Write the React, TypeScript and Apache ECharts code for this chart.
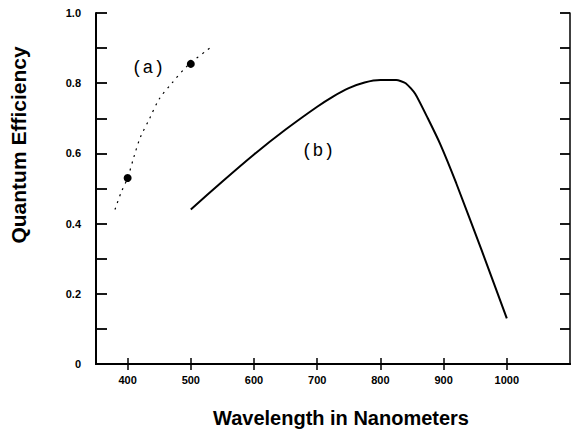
import React, { useEffect, useRef } from "react";
import * as echarts from "echarts";

// Curve (a): dotted theoretical curve [wavelength nm, QE]
const curveA: [number, number][] = [
  [380, 0.44], [390, 0.49], [400, 0.53], [410, 0.59], [420, 0.645],
  [435, 0.70], [450, 0.755], [470, 0.80], [495, 0.85], [530, 0.90],
];
// Measured points on curve (a)
const pointsA: [number, number][] = [
  [400, 0.53], [500, 0.855],
];
// Curve (b): solid
const curveB: [number, number][] = [
  [500, 0.44], [550, 0.52], [600, 0.597], [650, 0.668], [700, 0.733],
  [725, 0.762], [750, 0.786], [775, 0.802], [800, 0.809], [825, 0.809],
  [840, 0.8], [855, 0.77], [875, 0.7], [895, 0.625], [920, 0.515],
  [960, 0.325], [1000, 0.13],
];
const xTickValues = [400, 500, 600, 700, 800, 900, 1000];
const yLabelValues = [0, 0.2, 0.4, 0.6, 0.8, 1.0];
const xTitle = "Wavelength in Nanometers";
const yTitle = "Quantum Efficiency";
const labelA = "(a)";
const labelB = "(b)";

export default function App() {
  const ref = useRef<HTMLDivElement>(null);
  useEffect(() => {
    if (!ref.current) return;
    const chart = echarts.init(ref.current, null, { renderer: "svg" });
    const labelFont = {
      fontFamily: "Liberation Sans, Arial, sans-serif",
      fontWeight: "bold" as const,
      fontSize: 11,
      color: "#000",
    };
    chart.setOption({
      animation: false,
      backgroundColor: "#fff",
      grid: { left: 96, top: 13, right: 2, bottom: 73, outerBoundsMode: "none" },
      xAxis: [
        {
          type: "value", min: 350, max: 1100, position: "bottom",
          axisLine: { lineStyle: { color: "#000", width: 2 } },
          axisTick: { inside: true, length: 6, customValues: xTickValues, lineStyle: { color: "#000", width: 1.5 } },
          axisLabel: { ...labelFont, margin: 10, customValues: xTickValues, formatter: (v: number) => String(v) },
          splitLine: { show: false },
        },
        {
          type: "value", min: 350, max: 1100, position: "top",
          axisLine: { lineStyle: { color: "#000", width: 2 } },
          axisTick: { inside: true, length: 6, customValues: xTickValues, lineStyle: { color: "#000", width: 1.5 } },
          axisLabel: { show: false },
          splitLine: { show: false },
        },
      ],
      yAxis: [
        {
          type: "value", min: 0, max: 1, interval: 0.1, position: "left",
          axisLine: { lineStyle: { color: "#000", width: 2 } },
          axisTick: { inside: true, length: 11, lineStyle: { color: "#000", width: 1.8 } },
          axisLabel: {
            ...labelFont, margin: 15, customValues: yLabelValues,
            formatter: (v: number) => (v === 0 ? "0" : v.toFixed(1)),
          },
          splitLine: { show: false },
        },
        {
          type: "value", min: 0, max: 1, interval: 0.1, position: "right",
          axisLine: { lineStyle: { color: "#000", width: 1.5 } },
          axisTick: { inside: true, length: 10, lineStyle: { color: "#000", width: 1.8 } },
          axisLabel: { show: false },
          splitLine: { show: false },
        },
      ],
      series: [
        {
          type: "line", data: curveA, showSymbol: false, smooth: 0.3,
          lineStyle: { color: "#000", width: 1.2, type: [2, 5] },
        },
        {
          type: "scatter", data: pointsA, symbolSize: 8,
          itemStyle: { color: "#000", opacity: 1 },
        },
        {
          type: "line", data: curveB, showSymbol: false, smooth: 0.2,
          lineStyle: { color: "#000", width: 2 },
        },
      ],
      graphic: [
        {
          type: "text", x: 18, y: 145, rotation: Math.PI / 2,
          style: {
            text: yTitle, fontFamily: "Liberation Sans, Arial, sans-serif",
            fontSize: 21, fontWeight: "bold", fill: "#000", align: "center", verticalAlign: "middle",
          },
        },
        {
          type: "text", x: 341, y: 418,
          style: {
            text: xTitle, fontFamily: "Liberation Sans, Arial, sans-serif",
            fontSize: 20, fontWeight: "bold", fill: "#000", align: "center", verticalAlign: "middle",
          },
        },
        {
          type: "text", x: 148, y: 68,
          style: {
            text: labelA, fontFamily: "Liberation Mono, monospace",
            fontSize: 18, fill: "#000", align: "center", verticalAlign: "middle",
          },
        },
        {
          type: "text", x: 318, y: 151,
          style: {
            text: labelB, fontFamily: "Liberation Mono, monospace",
            fontSize: 18, fill: "#000", align: "center", verticalAlign: "middle",
          },
        },
      ],
    });
    return () => chart.dispose();
  }, []);
  return (
    <div
      ref={ref}
      style={{ position: "fixed", left: 0, top: 0, width: 572, height: 437, background: "#fff" }}
    />
  );
}
